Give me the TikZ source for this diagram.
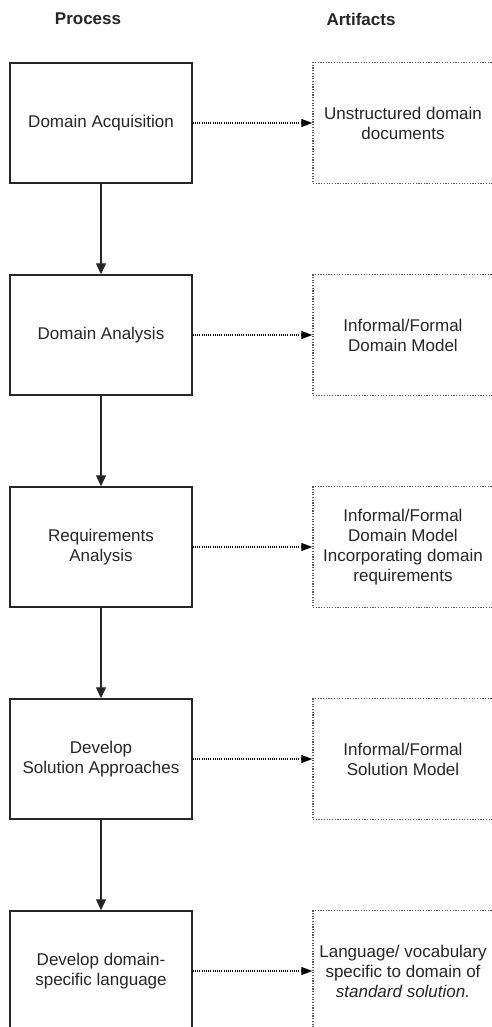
\documentclass[tikz,border=0pt]{standalone}
\usepackage{fontspec}
\setmainfont{Liberation Sans}
\usetikzlibrary{arrows.meta}
\definecolor{ink}{HTML}{262626}
\tikzset{
  procbox/.style={draw=ink, line width=1.5pt, minimum width=182pt, minimum height=120pt,
    align=center, text=ink, font=\fontsize{17}{20}\selectfont, inner sep=0pt},
  artbox/.style={draw=black!65, line width=1.5pt, dash pattern=on 1.2pt off 1.5pt,
    minimum width=180pt, minimum height=121pt, align=center, text=ink,
    font=\fontsize{17}{20}\selectfont, inner sep=0pt},
  header/.style={font=\bfseries\fontsize{17}{20}\selectfont, text=ink},
  flow/.style={draw=ink, line width=1.4pt, -{Triangle[length=11pt,width=10pt]}},
  produces/.style={draw=black, line width=1.2pt, dash pattern=on 1.1pt off 1.1pt,
    -{Triangle[length=11pt,width=8pt]}}
}
\begin{document}
\begin{tikzpicture}[x=1pt,y=-1pt]
  \clip (0,0) rectangle (492,1027);
  \fill[white] (0,0) rectangle (492,1027);

  \node[header] (hp) at (88,19) {Process};
  \node[header] (ha) at (361,19) {Artifacts};

  % process column
  \node[procbox] (p1) at (101,123) {Domain Acquisition};
  \node[procbox] (p2) at (101,335) {Domain Analysis};
  \node[procbox] (p3) at (101,547) {Requirements\\Analysis};
  \node[procbox] (p4) at (101,759) {Develop\\Solution Approaches};
  \node[procbox] (p5) at (101,971) {Develop domain-\\specific language};

  % artifact column
  \node[artbox] (a1) at (403,123) {Unstructured domain\\documents};
  \node[artbox] (a2) at (403,335) {Informal/Formal\\Domain Model};
  \node[artbox] (a3) at (403,547) {Informal/Formal\\Domain Model\\Incorporating domain\\requirements};
  \node[artbox] (a4) at (403,759) {Informal/Formal\\Solution Model};
  \node[artbox] (a5) at (403,971) {Language/ vocabulary\\specific to domain of\\\textit{standard solution.}};

  % sequence of process steps
  \draw[flow] (p1) -- (p2);
  \draw[flow] (p2) -- (p3);
  \draw[flow] (p3) -- (p4);
  \draw[flow] (p4) -- (p5);

  % produced artifacts
  \foreach \i in {1,...,5}
    \draw[produces] (p\i.east) -- (a\i.west);
\end{tikzpicture}
\end{document}
